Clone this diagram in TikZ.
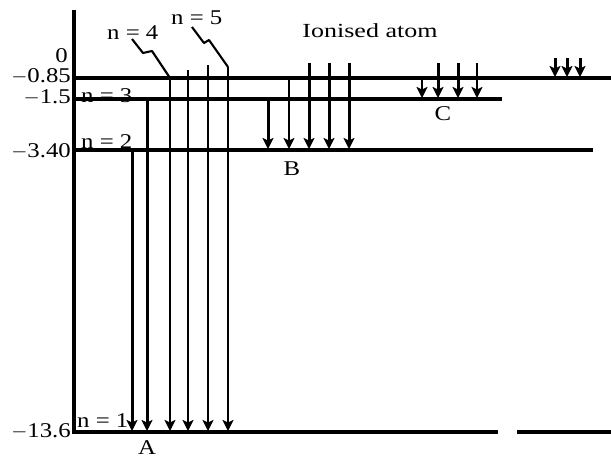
\documentclass[tikz,border=0pt]{standalone}
\usepackage{fontspec}
\setmainfont{Liberation Serif}
\newfontfamily\lblfont[FakeStretch=1.18]{Liberation Serif}
\newfontfamily\ionfont[FakeStretch=1.3]{Liberation Serif}
\usetikzlibrary{arrows.meta}
\begin{document}
\begin{tikzpicture}[x=1pt,y=-1pt,
  level/.style={line width=3.2pt},
  axisline/.style={line width=3.4pt},
  arr/.style={line width=2.1pt,-{Stealth[length=11pt,width=11pt,inset=2.5pt]}},
  tarr/.style={arr,line width=3pt},
  squig/.style={line width=2.1pt,line join=round},
  txt/.style={font=\lblfont\fontsize{21}{21}\selectfont,inner sep=0pt},
  val/.style={txt,anchor=base east},
  nlab/.style={txt,anchor=base west},
  letter/.style={txt,anchor=base}]
\useasboundingbox (0,0) rectangle (611,459);
% labels on levels (drawn first; level lines pass over them)
\node[nlab] (n3) at (81,102) {n = 3};
\node[nlab] (n2) at (81,148) {n = 2};
\node[nlab] (n1) at (77,427) {n = 1};
\node[nlab] (n4) at (107,39) {n = 4};
\node[nlab] (n5) at (171,24) {n = 5};
\node[val] (v0) at (68,62) {0};
\node[val] (v1) at (71,82) {$-$0.85};
\node[val] (v2) at (71,103) {$-$1.5};
\node[val] (v3) at (71,157) {$-$3.40};
\node[val] (v4) at (71,437) {$-$13.6};
\node[txt,font=\ionfont\fontsize{20}{20}\selectfont,anchor=base] (ion) at (370,37) {Ionised atom};
\node[letter] (A) at (147,454) {A};
\node[letter] (B) at (292,175) {B};
\node[letter] (C) at (443,120) {C};
% axis and levels
\coordinate (axtop) at (74,10);
\coordinate (axbot) at (74,433.6);
\draw[axisline] (axtop) -- (axbot);
\coordinate (l0a) at (74,78);  \coordinate (l0b) at (611,78);
\coordinate (l1a) at (74,99);  \coordinate (l1b) at (502,99);
\coordinate (l2a) at (74,150); \coordinate (l2b) at (593,150);
\coordinate (l3a) at (74,432); \coordinate (l3b) at (498,432);
\coordinate (l3c) at (517,432); \coordinate (l3d) at (611,432);
\draw[level] (l0a) -- (l0b);
\draw[level] (l1a) -- (l1b);
\draw[level] (l2a) -- (l2b);
\draw[level] (l3a) -- (l3b);
\draw[level] (l3c) -- (l3d);
% series A (Lyman)
\coordinate (a1) at (132,150); \coordinate (a1e) at (132,431);
\coordinate (a2) at (147,99);  \coordinate (a2e) at (147,431);
\coordinate (a3) at (170,78);  \coordinate (a3e) at (170,431);
\coordinate (a4) at (188,70);  \coordinate (a4e) at (188,431);
\coordinate (a5) at (208,65);  \coordinate (a5e) at (208,431);
\coordinate (a6) at (228,67);  \coordinate (a6e) at (228,431);
\draw[tarr] (a1) -- (a1e);
\draw[tarr] (a2) -- (a2e);
\draw[arr] (a3) -- (a3e);
\draw[arr] (a4) -- (a4e);
\draw[arr] (a5) -- (a5e);
\draw[arr] (a6) -- (a6e);
% series B (Balmer)
\coordinate (b1) at (268,99); \coordinate (b1e) at (268,149);
\coordinate (b2) at (289,78); \coordinate (b2e) at (289,149);
\coordinate (b3) at (309,63); \coordinate (b3e) at (309,149);
\coordinate (b4) at (329,63); \coordinate (b4e) at (329,149);
\coordinate (b5) at (349,63); \coordinate (b5e) at (349,149);
\draw[tarr] (b1) -- (b1e);
\draw[arr] (b2) -- (b2e);
\draw[tarr] (b3) -- (b3e);
\draw[tarr] (b4) -- (b4e);
\draw[tarr] (b5) -- (b5e);
% series C (Paschen)
\coordinate (c1) at (422,78); \coordinate (c1e) at (422,98);
\coordinate (c2) at (438,63); \coordinate (c2e) at (438,98);
\coordinate (c3) at (458,63); \coordinate (c3e) at (458,98);
\coordinate (c4) at (477,63); \coordinate (c4e) at (477,98);
\draw[arr] (c1) -- (c1e);
\draw[tarr] (c2) -- (c2e);
\draw[tarr] (c3) -- (c3e);
\draw[arr] (c4) -- (c4e);
% far right series
\coordinate (d1) at (555,58); \coordinate (d1e) at (555,77);
\coordinate (d2) at (567,58); \coordinate (d2e) at (567,77);
\coordinate (d3) at (580,58); \coordinate (d3e) at (580,77);
\draw[tarr] (d1) -- (d1e);
\draw[tarr] (d2) -- (d2e);
\draw[tarr] (d3) -- (d3e);
% pointers from n = 4 and n = 5
\coordinate (s4) at (132,39);
\coordinate (s5) at (192,27);
\draw[squig] (s4) -- (143,53) -- (152,51) -- (a3);
\draw[squig] (s5) -- (204,43) -- (209,40) -- (a6);
\end{tikzpicture}
\end{document}
